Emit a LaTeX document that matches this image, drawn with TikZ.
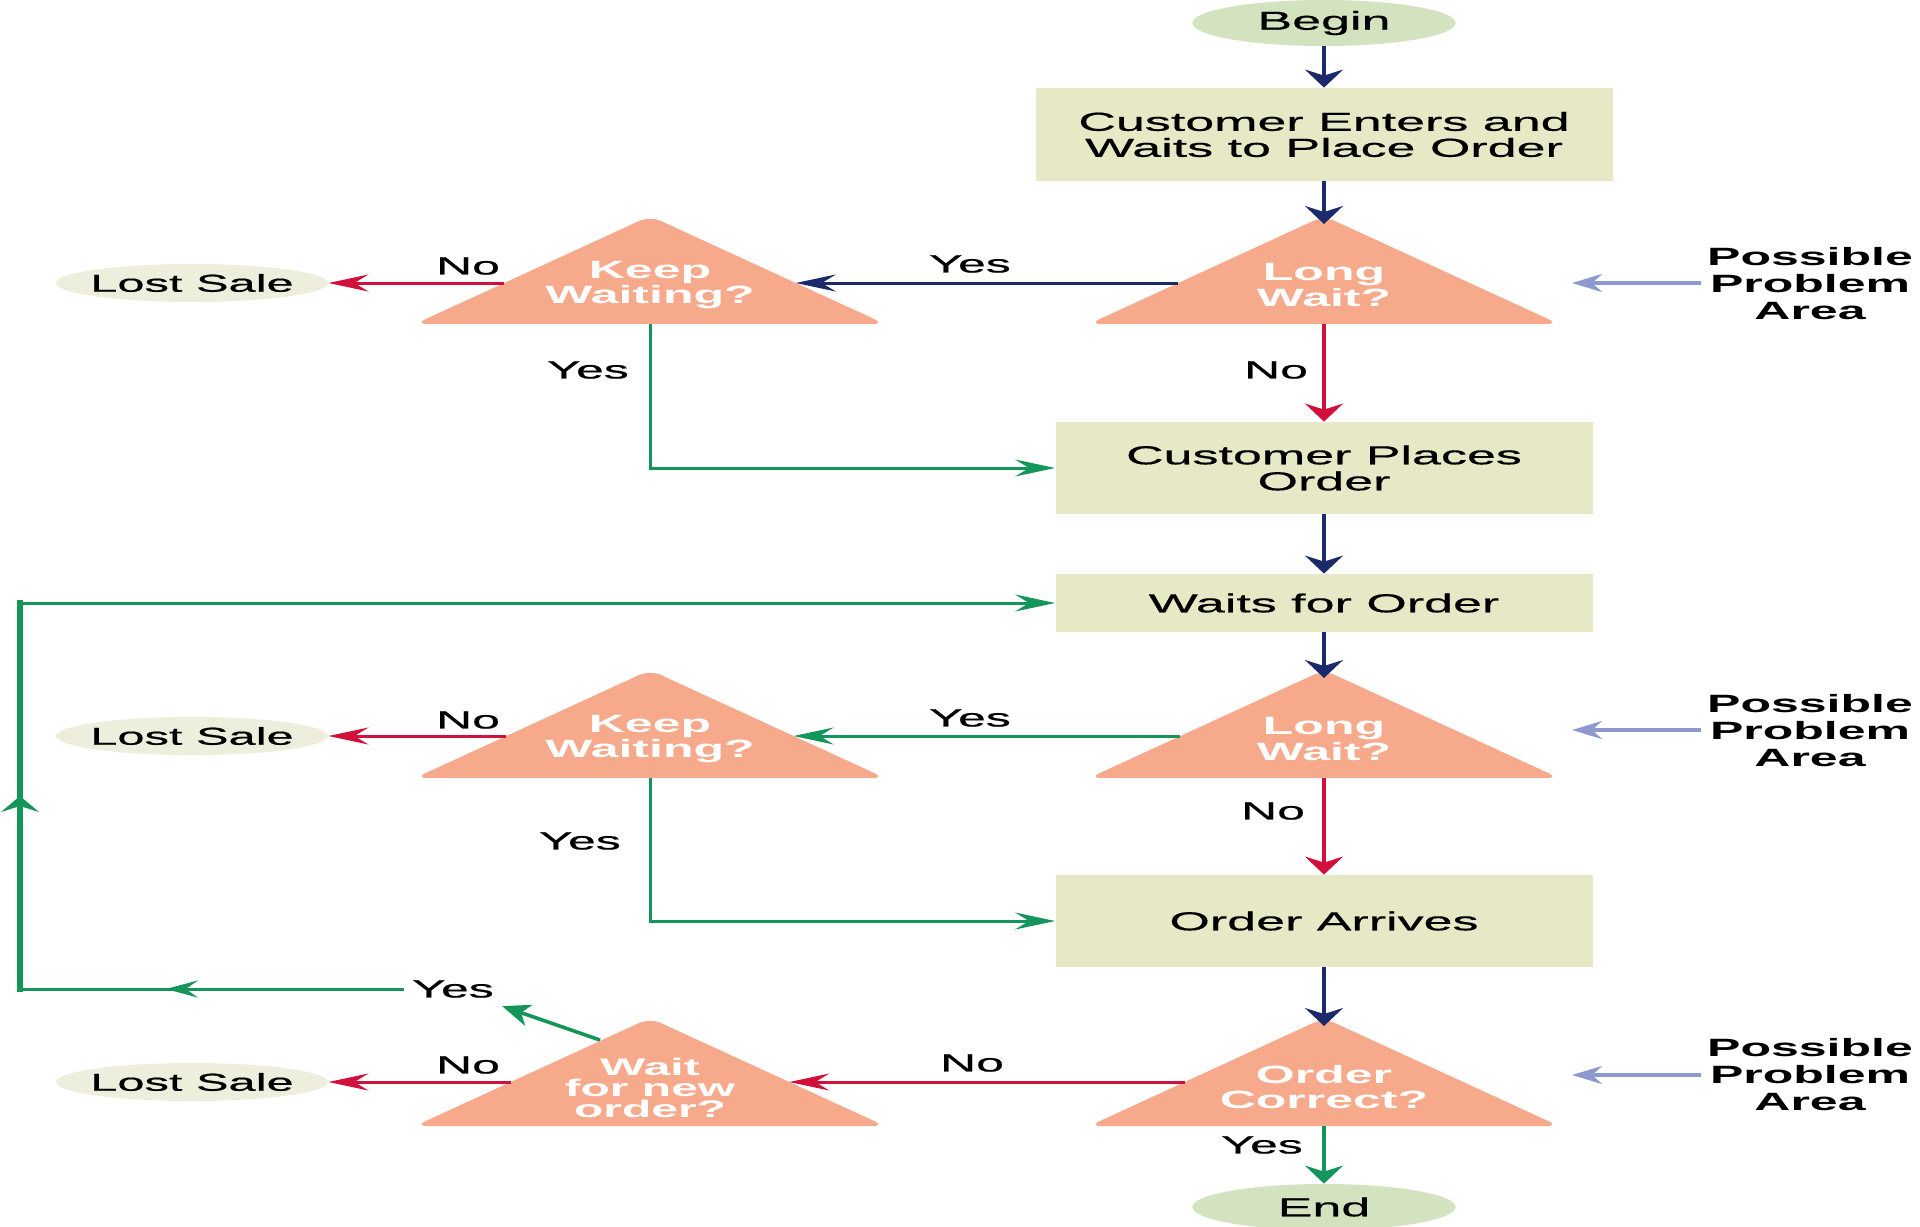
\documentclass[tikz,border=0pt]{standalone}
\usepackage{fontspec}
\setmainfont{Liberation Sans}[FakeStretch=2.0,UprightFeatures={FakeBold=0.6}]
\usetikzlibrary{arrows.meta,shapes.geometric,calc,decorations.markings}
\definecolor{boxc}{HTML}{E7E8C5}
\definecolor{trif}{HTML}{F7A98B}
\definecolor{lsc}{HTML}{EEEEDD}
\definecolor{bec}{HTML}{D3E2BF}
\definecolor{navyc}{HTML}{1B2A6B}
\definecolor{redc}{HTML}{D1103C}
\definecolor{greenc}{HTML}{14965A}
\definecolor{ppc}{HTML}{8C98CE}
\tikzset{
  vline/.style={line width=2.3pt,-{Stealth[length=9pt,width=19pt,inset=3pt]}},
  hline/.style={line width=1.5pt,-{Stealth[length=20pt,width=8.5pt,inset=7pt]}},
  boxst/.style={fill=boxc,inner sep=0pt,align=center,font=\fontsize{13}{13}\selectfont},
  ovst/.style={ellipse,inner sep=0pt,font=\fontsize{13}{13}\selectfont},
  lsst/.style={ellipse,fill=lsc,inner xsep=-3pt,inner ysep=0pt,minimum width=136pt,minimum height=19pt,font=\fontsize{12.2}{13}\selectfont},
  tritext/.style={text=white,align=center,inner sep=0pt,font=\bfseries\fontsize{12.5}{12.8}\selectfont},
  lab/.style={inner sep=4pt,font=\fontsize{12.5}{13.5}\selectfont},
  ppt/.style={align=center,inner sep=3pt,font=\bfseries\fontsize{12.5}{13.5}\selectfont},
  pparrow/.style={draw=ppc,line width=1.8pt,-{Stealth[length=15pt,width=9pt,inset=5pt]}}
}
% name, cx, base y, row y
\newcommand\decTri[4]{%
  \fill[trif,rounded corners=6pt] (#2,#3-108) -- (#2+235,#3) -- (#2-235,#3) -- cycle;
  \coordinate (#1-top) at (#2,#3-100);
  \coordinate (#1-bot) at (#2,#3);
  \coordinate (#1-l) at ({#2-235*(#4-#3+108)/108},#4);
  \coordinate (#1-r) at ({#2+235*(#4-#3+108)/108},#4);
}
\begin{document}
\begin{tikzpicture}[x=0.5pt,y=-0.5pt]
\useasboundingbox (0,0) rectangle (1920,1226);
\fill[white] (0,0) rectangle (1920,1226);

% ---- nodes ----
\node[ovst,fill=bec,minimum width=131.5pt,minimum height=23pt] (begin) at (1324,23) {Begin};
\node[boxst,minimum width=288.5pt,minimum height=46.5pt] (box1) at (1324,134.5) {Customer Enters and\\Waits to Place Order};
\node[boxst,minimum width=268.5pt,minimum height=46pt] (box2) at (1324,468) {Customer Places\\Order};
\node[boxst,minimum width=268.5pt,minimum height=29pt] (box3) at (1324,603) {Waits for Order};
\node[boxst,minimum width=268.5pt,minimum height=46pt] (box4) at (1324,921) {Order Arrives};
\node[ovst,fill=bec,minimum width=131.5pt,minimum height=23pt] (end) at (1324,1207) {End};

\decTri{lw1}{1324}{324}{283}
\decTri{kw1}{650}{324}{283}
\decTri{lw2}{1324}{778}{736}
\decTri{kw2}{650}{778}{736}
\decTri{oc}{1324}{1126}{1082}
\decTri{wn}{650}{1126}{1082}

\node[tritext] (lw1t) at (1324,285) {Long\\Wait?};
\node[tritext] (kw1t) at (650,285) {Keep\\Waiting?};
\node[tritext] (lw2t) at (1324,739) {Long\\Wait?};
\node[tritext] (kw2t) at (650,739) {Keep\\Waiting?};
\node[tritext] (oct) at (1324,1087) {Order\\Correct?};
\node[tritext,font=\bfseries\fontsize{12}{10.5}\selectfont] (wnt) at (650,1088) {Wait\\for new\\order?};

\node[lsst] (ls1) at (192,283) {Lost Sale};
\node[lsst] (ls2) at (192,736) {Lost Sale};
\node[lsst] (ls3) at (192,1082) {Lost Sale};

\node[ppt] (pp1) at (1810,284) {Possible\\Problem\\Area};
\node[ppt] (pp2) at (1810,731) {Possible\\Problem\\Area};
\node[ppt] (pp3) at (1810,1075) {Possible\\Problem\\Area};
\coordinate (pa1) at (1572,283);
\coordinate (pa2) at (1572,730);
\coordinate (pa3) at (1572,1075);

% labels
\node[lab] (y1) at (970,264) {Yes};
\node[lab] (n1) at (468,266) {No};
\node[lab] (y1b) at (588,370) {Yes};
\node[lab] (n1b) at (1276,370) {No};
\node[lab] (y2) at (970,718) {Yes};
\node[lab] (n2) at (468,720) {No};
\node[lab] (y2b) at (580,841) {Yes};
\node[lab] (n2b) at (1273,811) {No};
\node[lab] (n3) at (972,1063) {No};
\node[lab] (n3b) at (468,1065) {No};
\node[lab] (yl3) at (453,989) {Yes};
\node[lab] (y3b) at (1262,1145) {Yes};

% ---- connectors ----
\draw[navyc,vline] (begin.south) -- (box1.north);
\draw[navyc,vline] (box1.south) -- (lw1-top);
\draw[navyc,hline] (lw1-l) -- (kw1-r);
\draw[redc,hline] (kw1-l) -- (ls1.east);
\draw[redc,vline] (lw1-bot) -- (box2.north);
\draw[greenc,hline] (kw1-bot) |- (box2.west);
\draw[navyc,vline] (box2.south) -- (box3.north);
\draw[navyc,vline] (box3.south) -- (lw2-top);
\draw[greenc,hline] (lw2-l) -- (kw2-r);
\draw[redc,hline] (kw2-l) -- (ls2.east);
\draw[redc,vline] (lw2-bot) -- (box4.north);
\draw[greenc,hline] (kw2-bot) |- (box4.west);
\draw[navyc,vline] (box4.south) -- (oc-top);
\draw[redc,hline] (oc-l) -- (wn-r);
\draw[redc,hline] (wn-l) -- (ls3.east);
\draw[greenc,vline] (oc-bot) -- (end.north);

\coordinate (wnd) at (600,1040);
\draw[greenc,line width=1.8pt,-{Stealth[length=14pt,width=11pt,inset=4pt]}] (wnd) -- (yl3.south east);

\coordinate (lcb) at (20,989);
\coordinate (lct) at (20,603);
\draw[greenc,line width=1.5pt,postaction={decorate},
  decoration={markings,mark=at position 0.62 with {\arrow{Stealth[length=16pt,width=8.5pt,inset=6pt]}}}]
  (yl3.west) -- (lcb);
\draw[greenc,line width=2.6pt,line cap=rect,postaction={decorate},
  decoration={markings,mark=at position 0.5 with {\arrow{Stealth[length=8pt,width=19pt,inset=3pt]}}}]
  (lcb) -- (lct);
\draw[greenc,hline] (lct) -- (box3.west);

\draw[pparrow] (pp1.west |- pa1) -- (pa1);
\draw[pparrow] (pp2.west |- pa2) -- (pa2);
\draw[pparrow] (pp3.west |- pa3) -- (pa3);
\end{tikzpicture}
\end{document}
